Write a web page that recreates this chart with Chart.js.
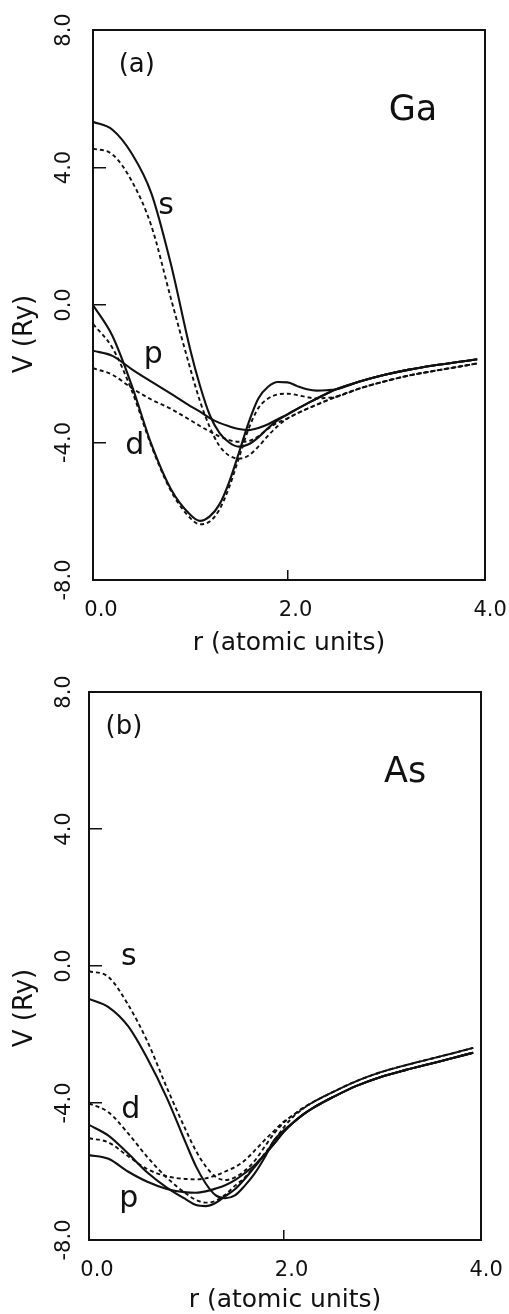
<!DOCTYPE html>
<html>
<head>
<meta charset="utf-8">
<script src="https://cdn.jsdelivr.net/npm/chart.js@4.4.1/dist/chart.umd.min.js"></script>
<style>
    html, body { margin: 0; padding: 0; background: #fff; }
    #wrap { position: relative; width: 509px; height: 1314px; }
    canvas { position: absolute; left: 0; }
</style>
</head>
<body>
<div id="wrap">
    <canvas id="gaChart" width="509" height="657" style="top:0"></canvas>
    <canvas id="asChart" width="509" height="657" style="top:657px"></canvas>
</div>
<script>
    'use strict';

    // r grid (atomic units) shared by every curve
    var radius = [0, 0.2, 0.4, 0.6, 0.8, 1.0, 1.1, 1.2, 1.3, 1.4, 1.5, 1.6, 1.7, 1.8, 1.9, 2.0,
                  2.1, 2.2, 2.3, 2.4, 2.5, 2.75, 3.0, 3.25, 3.5, 3.75, 3.95];
    var xTicks = [0, 2, 4];
    var yTicks = [8, 4, 0, -4, -8];

    // (a) Ga, V in Ry
    var gaSSolid  = [5.33, 5.1, 4.4, 3.25, 1.2, -1.3, -2.35, -3.2, -3.72, -4.0, -4.12, -4.05, -3.85, -3.58, -3.35, -3.18,
                     -3.02, -2.87, -2.72, -2.58, -2.45, -2.22, -2.03, -1.88, -1.76, -1.66, -1.58];
    var gaSDashed = [4.55, 4.38, 3.6, 2.3, 0.2, -1.85, -2.8, -3.55, -4.1, -4.38, -4.47, -4.38, -4.12, -3.8, -3.52, -3.3,
                     -3.15, -3.02, -2.9, -2.78, -2.67, -2.42, -2.22, -2.05, -1.92, -1.8, -1.7];
    var gaPSolid  = [-1.33, -1.48, -1.87, -2.23, -2.58, -2.94, -3.1, -3.29, -3.43, -3.53, -3.61, -3.64, -3.58, -3.47, -3.32, -3.18,
                     -3.02, -2.87, -2.72, -2.58, -2.45, -2.22, -2.03, -1.88, -1.76, -1.66, -1.58];
    var gaPDashed = [-1.84, -2.03, -2.42, -2.75, -3.02, -3.35, -3.52, -3.68, -3.82, -3.93, -3.98, -3.96, -3.82, -3.6, -3.42, -3.3,
                     -3.15, -3.02, -2.9, -2.78, -2.67, -2.42, -2.22, -2.05, -1.92, -1.8, -1.7];
    var gaDSolid  = [0.0, -0.9, -2.35, -4.05, -5.35, -6.1, -6.28, -6.15, -5.8, -5.15, -4.3, -3.42, -2.72, -2.38, -2.24, -2.25,
                     -2.36, -2.45, -2.49, -2.48, -2.45, -2.22, -2.03, -1.88, -1.76, -1.66, -1.58];
    var gaDDashed = [-0.55, -1.25, -2.5, -4.1, -5.4, -6.2, -6.38, -6.3, -5.95, -5.3, -4.45, -3.6, -3.0, -2.72, -2.6, -2.58,
                     -2.62, -2.68, -2.72, -2.7, -2.67, -2.42, -2.22, -2.05, -1.92, -1.8, -1.7];

    // (b) As, V in Ry
    var asSSolid  = [-0.96, -1.2, -1.75, -2.7, -3.85, -5.2, -5.85, -6.35, -6.69, -6.78, -6.7, -6.42, -6.07, -5.62, -5.1, -4.8,
                     -4.57, -4.34, -4.15, -3.99, -3.84, -3.5, -3.24, -3.04, -2.86, -2.68, -2.53];
    var asSDashed = [-0.15, -0.32, -1.12, -2.2, -3.55, -4.82, -5.4, -5.85, -6.15, -6.25, -6.17, -5.98, -5.7, -5.3, -4.9, -4.58,
                     -4.35, -4.15, -3.98, -3.83, -3.69, -3.36, -3.1, -2.9, -2.72, -2.54, -2.39];
    var asPSolid  = [-5.52, -5.63, -6.0, -6.3, -6.51, -6.61, -6.62, -6.58, -6.5, -6.4, -6.25, -6.05, -5.82, -5.52, -5.2, -4.85,
                     -4.57, -4.34, -4.15, -3.99, -3.84, -3.5, -3.24, -3.04, -2.86, -2.68, -2.53];
    var asPDashed = [-5.03, -5.15, -5.55, -5.93, -6.14, -6.22, -6.23, -6.2, -6.12, -6.0, -5.87, -5.68, -5.4, -5.1, -4.82, -4.55,
                     -4.35, -4.15, -3.98, -3.83, -3.69, -3.36, -3.1, -2.9, -2.72, -2.54, -2.39];
    var asDSolid  = [-4.64, -4.95, -5.47, -6.03, -6.47, -6.82, -6.98, -7.01, -6.92, -6.72, -6.52, -6.22, -5.88, -5.53, -5.2, -4.85,
                     -4.57, -4.34, -4.15, -3.99, -3.84, -3.5, -3.24, -3.04, -2.86, -2.68, -2.53];
    var asDDashed = [-4.01, -4.27, -4.88, -5.58, -6.18, -6.65, -6.83, -6.91, -6.86, -6.68, -6.42, -6.18, -5.85, -5.5, -5.12, -4.72,
                     -4.4, -4.17, -3.98, -3.83, -3.69, -3.36, -3.1, -2.9, -2.72, -2.54, -2.39];

    var FONT = "'DejaVu Sans', sans-serif";
    var INK = '#111';

    function lineSet(values, dashed) {
        return {
            data: radius.map(function (r, i) { return { x: r, y: values[i] }; }),
            borderColor: INK,
            borderWidth: dashed ? 1.9 : 2.1,
            borderDash: dashed ? [4, 3] : [],
            pointRadius: 0,
            fill: false,
            cubicInterpolationMode: 'monotone'
        };
    }

    // frame, panel letters and the rotated y title
    function panelPlugin(notes, titleShift) {
        return {
            id: 'panel',
            afterDraw: function (chart) {
                var a = chart.chartArea, ctx = chart.ctx;
                var sx = chart.scales.x, sy = chart.scales.y;
                ctx.save();
                ctx.strokeStyle = INK;
                ctx.lineWidth = 2;
                ctx.strokeRect(a.left, a.top, a.right - a.left, a.bottom - a.top);
                ctx.fillStyle = INK;
                ctx.textAlign = 'center';
                ctx.textBaseline = 'middle';
                notes.forEach(function (n) {
                    ctx.font = n.size + 'px ' + FONT;
                    ctx.fillText(n.text, sx.getPixelForValue(n.r), sy.getPixelForValue(n.v));
                });
                ctx.translate(25, (a.top + a.bottom) / 2 + titleShift);
                ctx.rotate(-Math.PI / 2);
                ctx.font = '26px ' + FONT;
                ctx.fillText('V (Ry)', 0, 0);
                ctx.restore();
            }
        };
    }

    function makeChart(id, sets, box, notes, titleShift) {
        var H = 657;
        return new Chart(document.getElementById(id), {
            type: 'line',
            data: { datasets: sets },
            plugins: [panelPlugin(notes, titleShift)],
            options: {
                responsive: false,
                animation: false,
                devicePixelRatio: 1,
                layout: { padding: { top: box.top, right: 509 - box.right, left: 0, bottom: 0 } },
                plugins: { legend: { display: false }, tooltip: { enabled: false } },
                scales: {
                    x: {
                        type: 'linear', min: 0, max: 4.03,
                        afterBuildTicks: function (s) { s.ticks = xTicks.map(function (v) { return { value: v }; }); },
                        afterFit: function (s) {
                            s.height = H - box.bottom;
                            s.paddingLeft = 0;
                            s.paddingRight = 0;
                        },
                        border: { display: false },
                        grid: {
                            drawOnChartArea: false, drawTicks: true, tickLength: -10, lineWidth: 1.5,
                            color: function (c) { return c.tick && c.tick.value === 2 ? INK : 'rgba(0,0,0,0)'; }
                        },
                        ticks: {
                            color: INK, font: { family: FONT, size: 21 }, padding: 28, labelOffset: 8,
                            maxRotation: 0, autoSkip: false,
                            callback: function (v) { return Number(v).toFixed(1); }
                        },
                        title: {
                            display: true, text: 'r (atomic units)', color: INK,
                            font: { family: FONT, size: 25, lineHeight: 1.1 }, padding: { top: 0, bottom: 0 }
                        }
                    },
                    y: {
                        type: 'linear', min: -8, max: 8,
                        afterBuildTicks: function (s) { s.ticks = yTicks.map(function (v) { return { value: v }; }); },
                        afterFit: function (s) {
                            s.width = box.left;
                            s.paddingTop = 0;
                            s.paddingBottom = 0;
                        },
                        border: { display: false },
                        grid: {
                            drawOnChartArea: false, drawTicks: true, tickLength: -13, lineWidth: 1.5,
                            color: function (c) { return c.tick && Math.abs(c.tick.value) < 8 ? INK : 'rgba(0,0,0,0)'; }
                        },
                        ticks: {
                            color: INK, font: { family: FONT, size: 21 }, padding: box.left - 72,
                            minRotation: 90, maxRotation: 90, crossAlign: 'center', autoSkip: false,
                            callback: function (v) { return Number(v).toFixed(1); }
                        }
                    }
                }
            }
        });
    }

    makeChart('gaChart', [
        lineSet(gaSSolid, false), lineSet(gaSDashed, true),
        lineSet(gaPSolid, false), lineSet(gaPDashed, true),
        lineSet(gaDSolid, false), lineSet(gaDDashed, true)
    ], { left: 93, right: 485, top: 30, bottom: 580 }, [
        { text: '(a)', r: 0.45, v: 6.98, size: 26 },
        { text: 'Ga', r: 3.29, v: 5.64, size: 35 },
        { text: 's', r: 0.75, v: 2.88, size: 30 },
        { text: 'p', r: 0.62, v: -1.45, size: 30 },
        { text: 'd', r: 0.43, v: -4.1, size: 30 }
    ], 29);

    makeChart('asChart', [
        lineSet(asSSolid, false), lineSet(asSDashed, true),
        lineSet(asPSolid, false), lineSet(asPDashed, true),
        lineSet(asDSolid, false), lineSet(asDDashed, true)
    ], { left: 89, right: 481, top: 35, bottom: 583 }, [
        { text: '(b)', r: 0.36, v: 6.98, size: 26 },
        { text: 'As', r: 3.25, v: 5.64, size: 35 },
        { text: 's', r: 0.41, v: 0.25, size: 30 },
        { text: 'd', r: 0.43, v: -4.2, size: 30 },
        { text: 'p', r: 0.41, v: -6.8, size: 30 }
    ], 42);
</script>
</body>
</html>
